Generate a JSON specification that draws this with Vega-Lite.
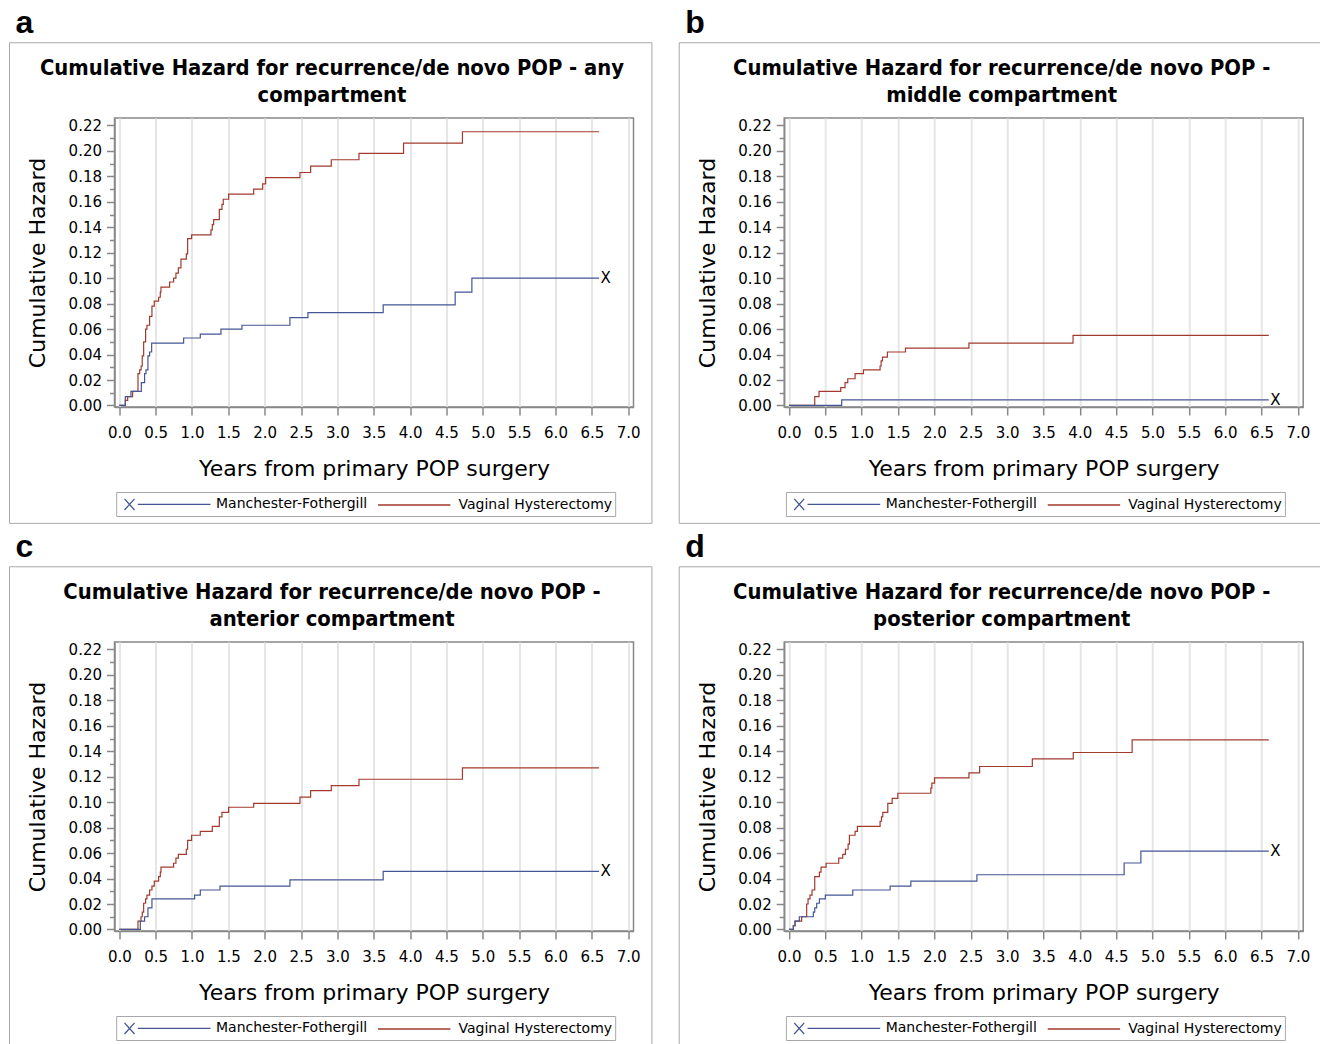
{
  "$schema": "https://vega.github.io/schema/vega-lite/v6.json",
  "padding": {"left": 7.5, "top": 6, "right": 0, "bottom": 0},
  "background": "white",
  "columns": 2,
  "bounds": "flush",
  "spacing": {"row": 235, "column": 150.7},
  "resolve": {"scale": {"color": "independent"}, "legend": {"color": "independent"}},
  "datasets": {
    "a": [
      {"g":"VH","t":0,"h":0},{"g":"VH","t":0.083,"h":0.004},{"g":"VH","t":0.115,"h":0.007},{"g":"VH","t":0.183,"h":0.011},{"g":"VH","t":0.257,"h":0.025},{"g":"VH","t":0.28,"h":0.028},{"g":"VH","t":0.3,"h":0.031},{"g":"VH","t":0.316,"h":0.039},{"g":"VH","t":0.335,"h":0.05},{"g":"VH","t":0.362,"h":0.06},{"g":"VH","t":0.38,"h":0.063},{"g":"VH","t":0.417,"h":0.07},{"g":"VH","t":0.449,"h":0.078},{"g":"VH","t":0.481,"h":0.082},{"g":"VH","t":0.541,"h":0.085},{"g":"VH","t":0.564,"h":0.089},{"g":"VH","t":0.573,"h":0.093},{"g":"VH","t":0.692,"h":0.097},{"g":"VH","t":0.747,"h":0.1},{"g":"VH","t":0.779,"h":0.104},{"g":"VH","t":0.812,"h":0.108},{"g":"VH","t":0.848,"h":0.115},{"g":"VH","t":0.922,"h":0.119},{"g":"VH","t":0.94,"h":0.131},{"g":"VH","t":0.995,"h":0.134},{"g":"VH","t":1.261,"h":0.138},{"g":"VH","t":1.279,"h":0.142},{"g":"VH","t":1.298,"h":0.146},{"g":"VH","t":1.376,"h":0.154},{"g":"VH","t":1.412,"h":0.158},{"g":"VH","t":1.43,"h":0.162},{"g":"VH","t":1.504,"h":0.166},{"g":"VH","t":1.848,"h":0.17},{"g":"VH","t":1.972,"h":0.174},{"g":"VH","t":2.013,"h":0.179},{"g":"VH","t":2.485,"h":0.183},{"g":"VH","t":2.632,"h":0.188},{"g":"VH","t":2.916,"h":0.193},{"g":"VH","t":3.297,"h":0.198},{"g":"VH","t":3.91,"h":0.206},{"g":"VH","t":4.72,"h":0.215},{"g":"VH","t":6.6,"h":0.215},
      {"g":"MF","t":0,"h":0},{"g":"MF","t":0.083,"h":0.007},{"g":"MF","t":0.16,"h":0.011},{"g":"MF","t":0.303,"h":0.018},{"g":"MF","t":0.348,"h":0.025},{"g":"MF","t":0.367,"h":0.028},{"g":"MF","t":0.394,"h":0.039},{"g":"MF","t":0.417,"h":0.042},{"g":"MF","t":0.445,"h":0.049},{"g":"MF","t":0.885,"h":0.053},{"g":"MF","t":1.114,"h":0.056},{"g":"MF","t":1.398,"h":0.06},{"g":"MF","t":1.687,"h":0.063},{"g":"MF","t":2.347,"h":0.069},{"g":"MF","t":2.595,"h":0.073},{"g":"MF","t":3.63,"h":0.079},{"g":"MF","t":4.62,"h":0.089},{"g":"MF","t":4.85,"h":0.1},{"g":"MF","t":6.6,"h":0.1}
    ],
    "b": [
      {"g":"VH","t":0,"h":0},{"g":"VH","t":0.354,"h":0.007},{"g":"VH","t":0.413,"h":0.011},{"g":"VH","t":0.712,"h":0.014},{"g":"VH","t":0.771,"h":0.018},{"g":"VH","t":0.808,"h":0.021},{"g":"VH","t":0.909,"h":0.025},{"g":"VH","t":1.024,"h":0.028},{"g":"VH","t":1.253,"h":0.031},{"g":"VH","t":1.267,"h":0.035},{"g":"VH","t":1.286,"h":0.038},{"g":"VH","t":1.354,"h":0.042},{"g":"VH","t":1.602,"h":0.045},{"g":"VH","t":2.475,"h":0.049},{"g":"VH","t":3.907,"h":0.055},{"g":"VH","t":6.6,"h":0.055},
      {"g":"MF","t":0,"h":0},{"g":"MF","t":0.725,"h":0.0044},{"g":"MF","t":6.6,"h":0.0044}
    ],
    "c": [
      {"g":"VH","t":0,"h":0},{"g":"VH","t":0.257,"h":0.0065},{"g":"VH","t":0.298,"h":0.01},{"g":"VH","t":0.316,"h":0.0136},{"g":"VH","t":0.335,"h":0.0206},{"g":"VH","t":0.362,"h":0.024},{"g":"VH","t":0.38,"h":0.027},{"g":"VH","t":0.417,"h":0.031},{"g":"VH","t":0.449,"h":0.034},{"g":"VH","t":0.481,"h":0.038},{"g":"VH","t":0.541,"h":0.0415},{"g":"VH","t":0.564,"h":0.045},{"g":"VH","t":0.573,"h":0.049},{"g":"VH","t":0.747,"h":0.052},{"g":"VH","t":0.779,"h":0.056},{"g":"VH","t":0.812,"h":0.059},{"g":"VH","t":0.922,"h":0.063},{"g":"VH","t":0.94,"h":0.07},{"g":"VH","t":0.995,"h":0.074},{"g":"VH","t":1.114,"h":0.077},{"g":"VH","t":1.279,"h":0.081},{"g":"VH","t":1.376,"h":0.0885},{"g":"VH","t":1.412,"h":0.092},{"g":"VH","t":1.504,"h":0.096},{"g":"VH","t":1.848,"h":0.099},{"g":"VH","t":2.485,"h":0.104},{"g":"VH","t":2.632,"h":0.109},{"g":"VH","t":2.916,"h":0.113},{"g":"VH","t":3.297,"h":0.118},{"g":"VH","t":4.72,"h":0.127},{"g":"VH","t":6.6,"h":0.127},
      {"g":"MF","t":0,"h":0},{"g":"MF","t":0.289,"h":0.0065},{"g":"MF","t":0.348,"h":0.01},{"g":"MF","t":0.394,"h":0.017},{"g":"MF","t":0.449,"h":0.024},{"g":"MF","t":1.036,"h":0.027},{"g":"MF","t":1.114,"h":0.031},{"g":"MF","t":1.385,"h":0.034},{"g":"MF","t":2.347,"h":0.039},{"g":"MF","t":3.63,"h":0.0457},{"g":"MF","t":6.6,"h":0.0457}
    ],
    "d": [
      {"g":"VH","t":0,"h":0},{"g":"VH","t":0.06,"h":0.003},{"g":"VH","t":0.083,"h":0.0065},{"g":"VH","t":0.174,"h":0.01},{"g":"VH","t":0.243,"h":0.02},{"g":"VH","t":0.262,"h":0.024},{"g":"VH","t":0.289,"h":0.027},{"g":"VH","t":0.317,"h":0.031},{"g":"VH","t":0.354,"h":0.0415},{"g":"VH","t":0.418,"h":0.045},{"g":"VH","t":0.441,"h":0.049},{"g":"VH","t":0.51,"h":0.052},{"g":"VH","t":0.684,"h":0.056},{"g":"VH","t":0.739,"h":0.059},{"g":"VH","t":0.776,"h":0.063},{"g":"VH","t":0.813,"h":0.067},{"g":"VH","t":0.831,"h":0.074},{"g":"VH","t":0.909,"h":0.077},{"g":"VH","t":0.941,"h":0.081},{"g":"VH","t":1.253,"h":0.085},{"g":"VH","t":1.272,"h":0.0885},{"g":"VH","t":1.29,"h":0.092},{"g":"VH","t":1.359,"h":0.099},{"g":"VH","t":1.419,"h":0.103},{"g":"VH","t":1.497,"h":0.107},{"g":"VH","t":1.951,"h":0.111},{"g":"VH","t":1.965,"h":0.115},{"g":"VH","t":2.002,"h":0.119},{"g":"VH","t":2.475,"h":0.123},{"g":"VH","t":2.622,"h":0.128},{"g":"VH","t":3.347,"h":0.134},{"g":"VH","t":3.91,"h":0.139},{"g":"VH","t":4.72,"h":0.149},{"g":"VH","t":6.6,"h":0.149},
      {"g":"MF","t":0,"h":0},{"g":"MF","t":0.06,"h":0.003},{"g":"MF","t":0.083,"h":0.0065},{"g":"MF","t":0.142,"h":0.01},{"g":"MF","t":0.335,"h":0.0136},{"g":"MF","t":0.354,"h":0.017},{"g":"MF","t":0.381,"h":0.0206},{"g":"MF","t":0.418,"h":0.024},{"g":"MF","t":0.5,"h":0.027},{"g":"MF","t":0.877,"h":0.031},{"g":"MF","t":1.391,"h":0.034},{"g":"MF","t":1.676,"h":0.038},{"g":"MF","t":2.585,"h":0.043},{"g":"MF","t":4.61,"h":0.0522},{"g":"MF","t":4.84,"h":0.0616},{"g":"MF","t":6.6,"h":0.0616}
    ],
    "frame": [{"x1": -1.51, "x2": 7.327, "y1": 0.2849, "y2": -0.0926}]
  },
  "concat": [
    {
      "title": {"text": "a"},
      "width": 519, "height": 289,
      "data": {"name": "a"},
      "resolve": {"axis": {"x": "independent", "y": "independent"}},
      "layer": [
        {
          "data": {"name": "frame"},
          "mark": {"type": "rect", "fill": "transparent", "stroke": "#a8a8a8", "strokeWidth": 1},
          "encoding": {
            "x": {"field": "x1", "type": "quantitative", "scale": {"domain": [-0.066, 7.073], "nice": false, "zero": false},
                  "axis": {"orient": "top", "labels": false, "ticks": false, "domain": false, "grid": false, "title": ["Cumulative Hazard for recurrence/de novo POP - any", "compartment"], "titleFont": "DejaVu Sans Condensed, DejaVu Sans", "titleFontWeight": "bold", "titleFontSize": 21.8, "titleX": 217, "titleY": -44, "titleAlign": "center", "titleBaseline": "alphabetic", "titleLineHeight": 27, "titleAngle": 0}},
            "x2": {"field": "x2"},
            "y": {"field": "y1", "type": "quantitative", "scale": {"domain": [-0.0012, 0.2258], "nice": false, "zero": false},
                  "axis": {"orient": "left", "values": [0.01,0.03,0.05,0.07,0.09,0.11,0.13,0.15,0.17,0.19,0.21], "labels": false, "domain": false, "grid": false, "title": null, "tickSize": 5}},
            "y2": {"field": "y2"}
          }
        },
        {
          "mark": {"type": "line", "interpolate": "step-after", "strokeWidth": 1.2},
          "encoding": {
            "x": {"field": "t", "type": "quantitative", "scale": {"domain": [-0.066, 7.073], "nice": false, "zero": false},
                  "axis": {"orient": "bottom", "values": [0,0.5,1,1.5,2,2.5,3,3.5,4,4.5,5,5.5,6,6.5,7], "format": ".1f", "title": "Years from primary POP surgery", "grid": true, "tickSize": 8, "labelPadding": 10, "titlePadding": 18}},
            "y": {"field": "h", "type": "quantitative", "scale": {"domain": [-0.0012, 0.2258], "nice": false, "zero": false},
                  "axis": {"orient": "left", "values": [0,0.02,0.04,0.06,0.08,0.1,0.12,0.14,0.16,0.18,0.2,0.22], "format": ".2f", "title": "Cumulative Hazard", "grid": false, "tickSize": 8, "labelPadding": 5, "titlePadding": 18.5}},
            "color": {"field": "g", "type": "nominal", "scale": {"domain": ["MF", "VH"], "range": ["#445694", "#A23A2E"]},
                      "legend": {"orient": "none", "legendX": 1.7, "legendY": 374, "direction": "horizontal", "title": null, "labelExpr": "datum.value === 'MF' ? 'Manchester-Fothergill' : 'Vaginal Hysterectomy'",
                                 "symbolType": "M-0.46,-0.69L0.79,0.69M-0.46,0.69L0.79,-0.69M1.2,0L10.29,0", "symbolSize": 256,
                                 "encode": {"symbols": {"update": {"shape": [{"test": "datum.value === 'VH'", "value": "M0.225,0L9.275,0"}, {"value": "M-0.46,-0.69L0.79,0.69M-0.46,0.69L0.79,-0.69M1.2,0L10.29,0"}], "fill": {"value": "transparent"}}},
                                            "labels": {"update": {"dx": [{"test": "datum.value === 'VH'", "value": 2.5}, {"value": 8}]}}}}}
          }
        },
        {
          "transform": [{"filter": "datum.g === 'MF' && datum.t >= 6.6"}],
          "mark": {"type": "text", "text": "X", "align": "left", "baseline": "middle", "dx": 1.5, "fontSize": 15, "font": "DejaVu Sans", "color": "black"},
          "encoding": {
            "x": {"field": "t", "type": "quantitative", "axis": null, "scale": {"domain": [-0.066, 7.073], "nice": false, "zero": false}},
            "y": {"field": "h", "type": "quantitative", "axis": null, "scale": {"domain": [-0.0012, 0.2258], "nice": false, "zero": false}}
          }
        }
      ]
    },
    {
      "title": {"text": "b"},
      "width": 519, "height": 289,
      "data": {"name": "b"},
      "resolve": {"axis": {"x": "independent", "y": "independent"}},
      "layer": [
        {
          "data": {"name": "frame"},
          "mark": {"type": "rect", "fill": "transparent", "stroke": "#a8a8a8", "strokeWidth": 1},
          "encoding": {
            "x": {"field": "x1", "type": "quantitative", "scale": {"domain": [-0.066, 7.073], "nice": false, "zero": false},
                  "axis": {"orient": "top", "labels": false, "ticks": false, "domain": false, "grid": false, "title": ["Cumulative Hazard for recurrence/de novo POP -", "middle compartment"], "titleFont": "DejaVu Sans Condensed, DejaVu Sans", "titleFontWeight": "bold", "titleFontSize": 21.8, "titleX": 217, "titleY": -44, "titleAlign": "center", "titleBaseline": "alphabetic", "titleLineHeight": 27, "titleAngle": 0}},
            "x2": {"field": "x2"},
            "y": {"field": "y1", "type": "quantitative", "scale": {"domain": [-0.0012, 0.2258], "nice": false, "zero": false},
                  "axis": {"orient": "left", "values": [0.01,0.03,0.05,0.07,0.09,0.11,0.13,0.15,0.17,0.19,0.21], "labels": false, "domain": false, "grid": false, "title": null, "tickSize": 5}},
            "y2": {"field": "y2"}
          }
        },
        {
          "mark": {"type": "line", "interpolate": "step-after", "strokeWidth": 1.2},
          "encoding": {
            "x": {"field": "t", "type": "quantitative", "scale": {"domain": [-0.066, 7.073], "nice": false, "zero": false},
                  "axis": {"orient": "bottom", "values": [0,0.5,1,1.5,2,2.5,3,3.5,4,4.5,5,5.5,6,6.5,7], "format": ".1f", "title": "Years from primary POP surgery", "grid": true, "tickSize": 8, "labelPadding": 10, "titlePadding": 18}},
            "y": {"field": "h", "type": "quantitative", "scale": {"domain": [-0.0012, 0.2258], "nice": false, "zero": false},
                  "axis": {"orient": "left", "values": [0,0.02,0.04,0.06,0.08,0.1,0.12,0.14,0.16,0.18,0.2,0.22], "format": ".2f", "title": "Cumulative Hazard", "grid": false, "tickSize": 8, "labelPadding": 5, "titlePadding": 18.5}},
            "color": {"field": "g", "type": "nominal", "scale": {"domain": ["MF", "VH"], "range": ["#445694", "#A23A2E"]},
                      "legend": {"orient": "none", "legendX": 1.7, "legendY": 374, "direction": "horizontal", "title": null, "labelExpr": "datum.value === 'MF' ? 'Manchester-Fothergill' : 'Vaginal Hysterectomy'",
                                 "symbolType": "M-0.46,-0.69L0.79,0.69M-0.46,0.69L0.79,-0.69M1.2,0L10.29,0", "symbolSize": 256,
                                 "encode": {"symbols": {"update": {"shape": [{"test": "datum.value === 'VH'", "value": "M0.225,0L9.275,0"}, {"value": "M-0.46,-0.69L0.79,0.69M-0.46,0.69L0.79,-0.69M1.2,0L10.29,0"}], "fill": {"value": "transparent"}}},
                                            "labels": {"update": {"dx": [{"test": "datum.value === 'VH'", "value": 2.5}, {"value": 8}]}}}}}
          }
        },
        {
          "transform": [{"filter": "datum.g === 'MF' && datum.t >= 6.6"}],
          "mark": {"type": "text", "text": "X", "align": "left", "baseline": "middle", "dx": 1.5, "fontSize": 15, "font": "DejaVu Sans", "color": "black"},
          "encoding": {
            "x": {"field": "t", "type": "quantitative", "axis": null, "scale": {"domain": [-0.066, 7.073], "nice": false, "zero": false}},
            "y": {"field": "h", "type": "quantitative", "axis": null, "scale": {"domain": [-0.0012, 0.2258], "nice": false, "zero": false}}
          }
        }
      ]
    },
    {
      "title": {"text": "c"},
      "width": 519, "height": 289,
      "data": {"name": "c"},
      "resolve": {"axis": {"x": "independent", "y": "independent"}},
      "layer": [
        {
          "data": {"name": "frame"},
          "mark": {"type": "rect", "fill": "transparent", "stroke": "#a8a8a8", "strokeWidth": 1},
          "encoding": {
            "x": {"field": "x1", "type": "quantitative", "scale": {"domain": [-0.066, 7.073], "nice": false, "zero": false},
                  "axis": {"orient": "top", "labels": false, "ticks": false, "domain": false, "grid": false, "title": ["Cumulative Hazard for recurrence/de novo POP -", "anterior compartment"], "titleFont": "DejaVu Sans Condensed, DejaVu Sans", "titleFontWeight": "bold", "titleFontSize": 21.8, "titleX": 217, "titleY": -44, "titleAlign": "center", "titleBaseline": "alphabetic", "titleLineHeight": 27, "titleAngle": 0}},
            "x2": {"field": "x2"},
            "y": {"field": "y1", "type": "quantitative", "scale": {"domain": [-0.0012, 0.2258], "nice": false, "zero": false},
                  "axis": {"orient": "left", "values": [0.01,0.03,0.05,0.07,0.09,0.11,0.13,0.15,0.17,0.19,0.21], "labels": false, "domain": false, "grid": false, "title": null, "tickSize": 5}},
            "y2": {"field": "y2"}
          }
        },
        {
          "mark": {"type": "line", "interpolate": "step-after", "strokeWidth": 1.2},
          "encoding": {
            "x": {"field": "t", "type": "quantitative", "scale": {"domain": [-0.066, 7.073], "nice": false, "zero": false},
                  "axis": {"orient": "bottom", "values": [0,0.5,1,1.5,2,2.5,3,3.5,4,4.5,5,5.5,6,6.5,7], "format": ".1f", "title": "Years from primary POP surgery", "grid": true, "tickSize": 8, "labelPadding": 10, "titlePadding": 18}},
            "y": {"field": "h", "type": "quantitative", "scale": {"domain": [-0.0012, 0.2258], "nice": false, "zero": false},
                  "axis": {"orient": "left", "values": [0,0.02,0.04,0.06,0.08,0.1,0.12,0.14,0.16,0.18,0.2,0.22], "format": ".2f", "title": "Cumulative Hazard", "grid": false, "tickSize": 8, "labelPadding": 5, "titlePadding": 18.5}},
            "color": {"field": "g", "type": "nominal", "scale": {"domain": ["MF", "VH"], "range": ["#445694", "#A23A2E"]},
                      "legend": {"orient": "none", "legendX": 1.7, "legendY": 374, "direction": "horizontal", "title": null, "labelExpr": "datum.value === 'MF' ? 'Manchester-Fothergill' : 'Vaginal Hysterectomy'",
                                 "symbolType": "M-0.46,-0.69L0.79,0.69M-0.46,0.69L0.79,-0.69M1.2,0L10.29,0", "symbolSize": 256,
                                 "encode": {"symbols": {"update": {"shape": [{"test": "datum.value === 'VH'", "value": "M0.225,0L9.275,0"}, {"value": "M-0.46,-0.69L0.79,0.69M-0.46,0.69L0.79,-0.69M1.2,0L10.29,0"}], "fill": {"value": "transparent"}}},
                                            "labels": {"update": {"dx": [{"test": "datum.value === 'VH'", "value": 2.5}, {"value": 8}]}}}}}
          }
        },
        {
          "transform": [{"filter": "datum.g === 'MF' && datum.t >= 6.6"}],
          "mark": {"type": "text", "text": "X", "align": "left", "baseline": "middle", "dx": 1.5, "fontSize": 15, "font": "DejaVu Sans", "color": "black"},
          "encoding": {
            "x": {"field": "t", "type": "quantitative", "axis": null, "scale": {"domain": [-0.066, 7.073], "nice": false, "zero": false}},
            "y": {"field": "h", "type": "quantitative", "axis": null, "scale": {"domain": [-0.0012, 0.2258], "nice": false, "zero": false}}
          }
        }
      ]
    },
    {
      "title": {"text": "d"},
      "width": 519, "height": 289,
      "data": {"name": "d"},
      "resolve": {"axis": {"x": "independent", "y": "independent"}},
      "layer": [
        {
          "data": {"name": "frame"},
          "mark": {"type": "rect", "fill": "transparent", "stroke": "#a8a8a8", "strokeWidth": 1},
          "encoding": {
            "x": {"field": "x1", "type": "quantitative", "scale": {"domain": [-0.066, 7.073], "nice": false, "zero": false},
                  "axis": {"orient": "top", "labels": false, "ticks": false, "domain": false, "grid": false, "title": ["Cumulative Hazard for recurrence/de novo POP -", "posterior compartment"], "titleFont": "DejaVu Sans Condensed, DejaVu Sans", "titleFontWeight": "bold", "titleFontSize": 21.8, "titleX": 217, "titleY": -44, "titleAlign": "center", "titleBaseline": "alphabetic", "titleLineHeight": 27, "titleAngle": 0}},
            "x2": {"field": "x2"},
            "y": {"field": "y1", "type": "quantitative", "scale": {"domain": [-0.0012, 0.2258], "nice": false, "zero": false},
                  "axis": {"orient": "left", "values": [0.01,0.03,0.05,0.07,0.09,0.11,0.13,0.15,0.17,0.19,0.21], "labels": false, "domain": false, "grid": false, "title": null, "tickSize": 5}},
            "y2": {"field": "y2"}
          }
        },
        {
          "mark": {"type": "line", "interpolate": "step-after", "strokeWidth": 1.2},
          "encoding": {
            "x": {"field": "t", "type": "quantitative", "scale": {"domain": [-0.066, 7.073], "nice": false, "zero": false},
                  "axis": {"orient": "bottom", "values": [0,0.5,1,1.5,2,2.5,3,3.5,4,4.5,5,5.5,6,6.5,7], "format": ".1f", "title": "Years from primary POP surgery", "grid": true, "tickSize": 8, "labelPadding": 10, "titlePadding": 18}},
            "y": {"field": "h", "type": "quantitative", "scale": {"domain": [-0.0012, 0.2258], "nice": false, "zero": false},
                  "axis": {"orient": "left", "values": [0,0.02,0.04,0.06,0.08,0.1,0.12,0.14,0.16,0.18,0.2,0.22], "format": ".2f", "title": "Cumulative Hazard", "grid": false, "tickSize": 8, "labelPadding": 5, "titlePadding": 18.5}},
            "color": {"field": "g", "type": "nominal", "scale": {"domain": ["MF", "VH"], "range": ["#445694", "#A23A2E"]},
                      "legend": {"orient": "none", "legendX": 1.7, "legendY": 374, "direction": "horizontal", "title": null, "labelExpr": "datum.value === 'MF' ? 'Manchester-Fothergill' : 'Vaginal Hysterectomy'",
                                 "symbolType": "M-0.46,-0.69L0.79,0.69M-0.46,0.69L0.79,-0.69M1.2,0L10.29,0", "symbolSize": 256,
                                 "encode": {"symbols": {"update": {"shape": [{"test": "datum.value === 'VH'", "value": "M0.225,0L9.275,0"}, {"value": "M-0.46,-0.69L0.79,0.69M-0.46,0.69L0.79,-0.69M1.2,0L10.29,0"}], "fill": {"value": "transparent"}}},
                                            "labels": {"update": {"dx": [{"test": "datum.value === 'VH'", "value": 2.5}, {"value": 8}]}}}}}
          }
        },
        {
          "transform": [{"filter": "datum.g === 'MF' && datum.t >= 6.6"}],
          "mark": {"type": "text", "text": "X", "align": "left", "baseline": "middle", "dx": 1.5, "fontSize": 15, "font": "DejaVu Sans", "color": "black"},
          "encoding": {
            "x": {"field": "t", "type": "quantitative", "axis": null, "scale": {"domain": [-0.066, 7.073], "nice": false, "zero": false}},
            "y": {"field": "h", "type": "quantitative", "axis": null, "scale": {"domain": [-0.0012, 0.2258], "nice": false, "zero": false}}
          }
        }
      ]
    }
  ],
  "config": {
    "font": "DejaVu Sans",
    "view": {"stroke": "#888888", "strokeWidth": 1.5},
    "title": {"anchor": "start", "frame": "bounds", "font": "Liberation Sans Narrow, Liberation Sans", "fontSize": 32, "fontWeight": "bold", "color": "black", "offset": 2, "dx": 6.5},
    "axis": {"domainColor": "#888888", "domainWidth": 1.5, "tickColor": "#888888", "tickWidth": 1.5, "labelColor": "black", "titleColor": "black", "labelFont": "DejaVu Sans", "titleFont": "DejaVu Sans", "labelFontSize": 15, "titleFontSize": 22, "titleFontWeight": "normal", "gridColor": "#e6e6e6", "gridWidth": 2, "labelFlush": false, "labelOverlap": false, "labelBound": false},
    "legend": {"labelFont": "DejaVu Sans", "labelFontSize": 14, "labelColor": "black", "strokeColor": "#a8a8a8", "padding": 3, "columnPadding": 0, "labelOffset": 70.8, "symbolStrokeWidth": 1.3, "symbolFillColor": "transparent"}
  }
}
